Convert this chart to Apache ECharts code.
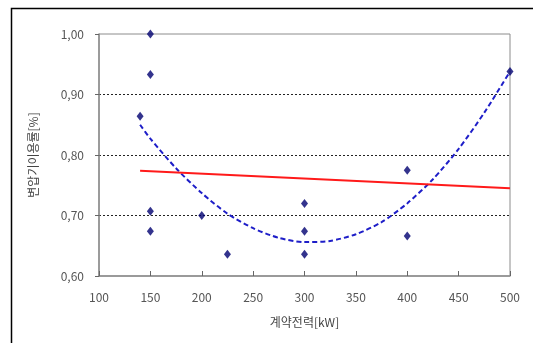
<!DOCTYPE html>
<html>
<head>
<meta charset="utf-8">
<script src="https://cdn.jsdelivr.net/npm/echarts@6/dist/echarts.min.js"></script>
<style>
  html, body { margin: 0; padding: 0; background: #fff; }
  #chart { width: 533px; height: 343px; }
</style>
</head>
<body>
<div id="chart"></div>
<script>
// measured points: contract power [kW] vs transformer utilisation [%]
const pointX = [150, 150, 140, 150, 150, 200, 225, 300, 300, 300, 400, 400, 500];
const pointY = [1.00, 0.933, 0.864, 0.707, 0.674, 0.700, 0.636, 0.720, 0.674, 0.636, 0.666, 0.775, 0.938];

// linear trend (red)
const linearX = [140, 500];
const linearY = [0.774, 0.745];

// polynomial trend (blue dashed)
const polyX = [140, 150, 175, 200, 225, 250, 275, 300, 325, 350, 375, 400, 425, 450, 475, 500];
const polyY = [0.850, 0.827, 0.778, 0.737, 0.703, 0.679, 0.663, 0.656, 0.658, 0.669, 0.689, 0.720, 0.760, 0.810, 0.870, 0.938];

const FONT = '"Noto Sans CJK KR", "DejaVu Sans", sans-serif';
const zip = (xs, ys) => xs.map((x, i) => [x, ys[i]]);

const chart = echarts.init(document.getElementById('chart'));

chart.setOption({
  animation: false,
  backgroundColor: '#fff',
  graphic: [{
    type: 'polyline',
    shape: { points: [[11.5, 343], [11.5, 8.5], [533, 8.5]] },
    style: { stroke: '#000', lineWidth: 1.5, fill: null }
  }],
  grid: {
    left: 99, top: 34, width: 411, height: 242,
    show: true,
    borderColor: '#8c8c8c',
    borderWidth: 1
  },
  xAxis: {
    type: 'value',
    min: 100, max: 500, interval: 50,
    name: '계약전력[kW]',
    nameLocation: 'middle',
    nameGap: 40,
    nameTextStyle: { fontFamily: FONT, fontSize: 12, color: '#444' },
    axisLine: { onZero: false, lineStyle: { color: '#8c8c8c', width: 1.5 } },
    axisTick: { inside: true, length: 5, lineStyle: { color: '#666' } },
    axisLabel: { fontFamily: FONT, fontSize: 12, color: '#555', margin: 15 },
    splitLine: { show: false }
  },
  yAxis: {
    type: 'value',
    min: 0.6, max: 1.0, interval: 0.1,
    name: '변압기이용률[%]',
    nameLocation: 'middle',
    nameGap: 60,
    nameTextStyle: { fontFamily: FONT, fontSize: 12, color: '#444' },
    axisLine: { onZero: false, lineStyle: { color: '#8c8c8c', width: 1.5 } },
    axisTick: { inside: false, length: 4, lineStyle: { color: '#666' } },
    axisLabel: {
      fontFamily: FONT, fontSize: 12, color: '#555', margin: 15,
      formatter: v => v.toFixed(2).replace('.', ',')
    },
    splitLine: {
      lineStyle: {
        color: ['transparent', '#222', '#222', '#222', 'transparent'],
        type: [2, 2],
        width: 1
      }
    }
  },
  series: [
    {
      name: 'poly',
      type: 'line',
      data: zip(polyX, polyY),
      smooth: 0.25,
      symbol: 'none',
      lineStyle: { color: '#1e1ec8', width: 2, type: [5, 3] },
      z: 3
    },
    {
      name: 'linear',
      type: 'line',
      data: zip(linearX, linearY),
      symbol: 'none',
      lineStyle: { color: '#ff1a1a', width: 2 },
      z: 4
    },
    {
      name: 'points',
      type: 'scatter',
      data: zip(pointX, pointY),
      symbol: 'diamond',
      symbolSize: [7, 9],
      itemStyle: { color: '#000070' },
      z: 5
    }
  ]
});
</script>
</body>
</html>
